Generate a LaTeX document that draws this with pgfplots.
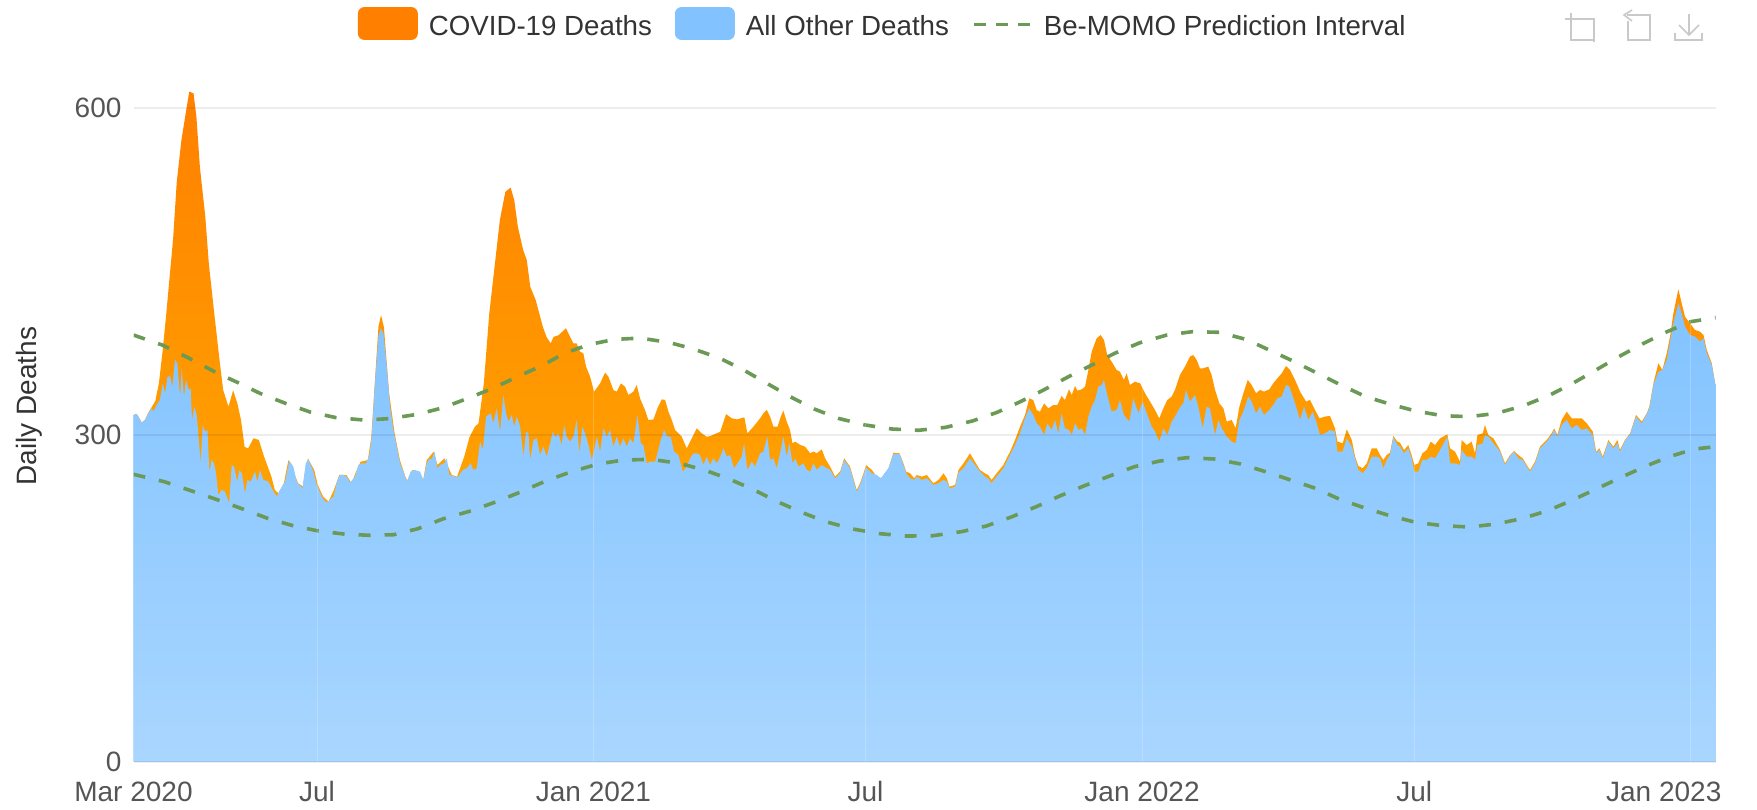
\documentclass[border=0pt]{standalone}
\usepackage{fontspec}
\setmainfont{Liberation Sans}
\usepackage{pgfplots}
\usepackage{pgfplotstable}
\pgfplotsset{compat=1.18}
\definecolor{covidtop}{HTML}{FF8000}
\definecolor{covidbot}{HTML}{FFB800}
\definecolor{othertop}{HTML}{82C3FF}
\definecolor{otherbot}{HTML}{A9D6FF}
\definecolor{pi}{HTML}{6A9A55}
\definecolor{ticktxt}{HTML}{555555}
\definecolor{labtxt}{HTML}{333333}
\definecolor{icon}{HTML}{C9C9C9}
\pgfplotstableread{
day total
0 318.4
2.1 319.3
3.9 315.3
5.4 311.4
7.6 313.8
9.8 320.5
12 325.5
14.4 331
16.8 347.4
19.1 375
21.5 408.5
23.9 445
26.2 480
28.6 532
31.7 570.6
34.5 595
36.9 615
39.7 613.4
41.6 592
43.9 546
47.5 500
49.8 457.5
53.4 411.6
56.9 368.8
59.3 341.3
62.8 326
65.9 341
68.7 329
71.1 313.7
73.5 289
75.8 287.7
79.4 297
82.9 295.4
86.4 280
91.2 261.8
93.5 249.5
95.9 246.5
99.4 255.6
102.5 277
105.3 268
108.9 255.6
112.4 252.6
115.3 278.6
119.5 268
121.9 254.2
125.4 243.5
129 238.9
132.5 249.5
136.1 263.3
140.8 263.3
144.3 255.6
146.7 264.8
150.2 275.5
155 277
157.3 298.4
159.7 350.4
162 399.4
163.7 410
165.6 399
169.1 338
172.7 301.5
176.2 277
179.8 261.8
181.4 257
184.5 268
188 266.3
191.6 258.7
193.9 277
198.6 284.7
201 272.5
205.7 278.6
210.5 263.3
214 261.8
218.7 280
222.3 298.4
225.8 307.6
228.2 310.7
231.7 347.4
235.3 411.6
238.8 454.4
242.3 497.2
245.9 523
249.4 527
251.8 515.6
254.2 491
257.7 469.7
260.1 460.5
262.4 436
266 423.8
270.7 399.4
273.1 390.2
275.9 384
277.8 390
281.3 391.7
286 398
288.7 390.2
290.9 384
293.1 384
295.3 376.4
297.5 374.9
299.3 362.7
302 353.5
304.6 339.7
308.6 347.4
311.9 357.2
314.1 353.5
317.4 341.3
319.6 339.7
322.3 347.4
325.1 344.3
327.3 336.7
330.6 339.7
332.8 345.8
335 333.6
338.3 322.9
340.5 313.7
343.9 314.3
346.5 324.4
349.4 332.7
351.6 332.1
353.8 321.4
356 313.7
358.2 304.6
362.6 298.4
365.9 287.7
369.2 296.9
372.5 306.1
375.8 301.5
379.1 298.4
381.3 299
384.6 300.9
388 303
391.9 319.2
395.7 315.3
399 314.3
404 316.2
406 301.5
410 307.6
414.4 315.3
416.6 319.9
418.8 323
421 316.9
423.2 307.7
425.9 307.7
428.1 316.9
429.8 322.4
432 312.3
434.2 304.6
435.8 292.4
437.6 293.9
440.9 290.9
444.2 289.3
447.5 283.2
449.7 284.8
451.9 283.2
455.2 286.9
457.4 278.6
460.7 271
464 261.8
467.3 266.4
470 278.6
473.9 271
476.1 260.3
478.3 249.6
480.5 255.7
482.8 264.9
484.5 272.5
488.3 267.9
491.6 261.8
494.9 260.3
499.3 269.5
502.6 283.8
506.6 283.2
509.2 274
511 266.4
513.6 264.9
516.3 260.3
518 263.3
521.3 261.8
524.7 263.3
529 255.7
532.4 258.8
535.7 264.9
537.9 260.3
539.6 252.6
543.4 254.2
545.6 267.9
548.9 274
553.2 283.2
556.5 275.5
559.8 267.9
563.1 264.8
565.3 263.3
567.5 258.7
570.8 264.8
575.3 272.5
579.7 284.7
583 295.4
586.3 307.6
589.6 318.3
592.4 333.6
595.1 332.1
597.3 322.9
599.5 321.4
602.2 329
605 324.5
608.3 327.5
611 327.5
613.8 335.8
616 332.1
618.7 341.9
620.5 336.7
622.7 345
624.2 340.7
627.1 341.9
629.3 344.3
631.5 359.6
633.7 376.4
637 388.7
639.6 391.7
641.8 387.2
644 373.4
646.9 367.3
650.2 359.6
652.4 358.1
655 350.5
656.8 356.6
659 345.9
662.3 348.9
665.7 347.4
669 338.2
672.3 330.6
675.6 322.9
678.4 315.3
681.1 324.5
683.7 332.1
686.6 335.2
688.8 341.3
692.1 355.1
695.4 362.7
698.7 371.9
700.9 373.4
703.1 368.9
705.3 361.2
707.5 361.2
710.8 362.7
713 355.1
715.3 341.3
718.1 329.1
720.8 324.5
723 312.3
726.3 313.8
728.9 306.2
731.4 326
734 338.3
736.9 350.5
739.5 345.9
742.4 338.3
745 341.3
747.7 339.8
751.2 341.9
753.8 347.4
756.5 352
759.4 356.6
762.2 363.3
764.9 359.7
768.2 350.5
771.5 339.8
775.5 330.6
778.1 332.2
781.4 323
784.3 315.3
788 316.9
791.3 317.5
794.6 306.2
796.2 294
799.7 292.4
802.4 305.2
805.7 295.5
807.9 280.2
810.1 271.6
812.9 269.5
815.6 274
818.9 287.8
822.2 287.8
824.4 281.7
826.6 277.1
828.8 281.7
831 283.8
833.2 299.1
835.9 293.9
837.6 293
840.3 286.2
843.1 290.8
845.3 281.6
847.1 272.5
849.7 274
852.4 283.2
855.3 286.2
857.9 293.9
860.8 290.8
864.1 296.9
868.9 300.6
870.7 287.8
874 284.7
877.3 275.5
878.4 295.4
881.7 290.8
885 293.9
887.2 283.2
888.8 300
892.3 301.5
893.8 309.2
896 300
899.4 296.9
903.8 286.2
907.1 274
910.4 281.6
913 285.3
915.9 281.6
918.8 278.6
921.4 272.5
923.6 267.9
926.9 275.6
930.2 289.3
934.6 295.4
937.9 301.6
939.5 306.1
941.7 300
944.5 313.8
947.9 321.4
951.2 315.3
954.5 315.3
957.8 315.3
961.1 310.7
965.1 303.1
967.3 284.7
969.5 287.8
971.7 280.2
975.4 295.4
978.7 289.3
981.4 295.4
983.1 286.3
986.4 295.4
989.8 301.6
993.7 318.4
997.5 312.3
1000.8 319.9
1002.5 326
1005.2 347.4
1008.5 365.8
1011.1 359.7
1014 375
1016.2 390.2
1018.4 411.6
1021.7 433.7
1023.9 420.8
1026.1 408.6
1029.4 402.5
1032.7 396.4
1036 394.8
1038.3 391.8
1040.5 378
1043.8 365.8
1046.4 344.4
}\totaltable
\pgfplotstableread{
day other
0 318.4
2.1 319.3
3.9 315.3
5.4 311.4
7.6 313.8
9.8 319.9
12 324.5
13.1 321.5
15.3 327.6
17.5 332.2
19.3 347.4
20.9 338.3
22.4 353
24.2 354.2
25.7 344.4
27.5 369.5
29 365.8
30.8 335.2
31.9 361.2
33.4 335.2
34.7 350.5
36.5 341.3
37.8 342.9
38.7 313.8
40.3 326
41.8 318.4
42.9 301.6
44.4 274
45.8 309.2
47.3 303.1
48.9 304.6
50.2 266.4
51.7 277.1
53.3 274
54.6 264.9
56.1 245
58.3 249.6
60.5 248.1
63.2 237.4
65 272.5
66.5 271
68.7 257.2
70 267.9
71.6 264.9
73.8 246.5
75.3 258.8
77.5 257.2
80.4 266.4
81.9 257.2
83.7 267.9
85.9 258.8
89.2 257.2
92 249.6
94.7 243.5
96.9 249.6
100.2 257.2
103.1 276.5
105.7 271
108 257.2
111.7 251.1
113.9 274
115.7 277.7
119 266.4
121.2 254.2
124.5 243.5
126.7 238.9
128.9 238.9
132.2 243.5
134.9 258.8
136.6 263.4
138.8 263.4
141 261.8
143.2 256.3
146.5 261.8
148.7 272.5
150.9 274
153.8 274
156 281.7
157.5 298.5
159.8 350.5
162 390.3
163.5 397.9
165.3 393.3
167.5 362.7
169.7 326
171.9 304.6
174.1 289.4
176.3 274
178.5 266.4
180.7 257.2
183.3 266.4
186.2 267.9
189.5 266.4
191.7 258.8
193.9 274
195.7 278.6
197.2 277.7
199 284.8
201 269.5
202.7 272.5
205.4 274
207.2 278.6
208.9 263.4
212.7 261.8
214.9 261.8
217.7 267.9
220.4 269.5
223 274
224.8 267.9
227 269.5
229.2 293.9
231 286.3
233.2 316.9
234.7 318.4
236.3 319.9
238 310.8
240.2 324.5
242.4 303.1
244.6 336.7
246.4 319.9
248 312.3
250.2 318.4
251.7 307.7
253.5 316.9
255.7 307.7
257.9 280.2
259.6 303.1
261.2 301.6
262.3 277.1
264.5 295.5
266.7 297
268.9 281.7
271.1 289.3
273.3 280.2
275.5 292.3
277.3 303
278.8 298.4
281 301.5
283.2 290.8
284.8 309.1
286.5 298.4
288.7 293.9
290.9 298.4
293.1 313.7
294.9 283.2
296.9 307.6
298.7 301.5
300.9 290.8
303.1 277
305.3 290.8
306.4 298.4
308.6 284.7
310.8 306.1
313 298.4
315.2 304.6
317.4 289.3
319.6 298.4
321.8 289.3
324 296.9
326.2 289.3
328.4 296.9
330.6 292.3
333.3 318.3
335.5 292.3
337.2 290.8
339.4 274
341.6 275.5
345 275.5
346.5 283.2
348.7 295.4
350.9 304.6
353.1 298.4
355.3 298.4
357.5 284.7
360.4 281.6
363.3 266.3
365.9 270.9
368.1 278.6
370.3 283.2
372.5 283.2
374.7 281.6
376.9 272.5
379.1 280.1
381.3 272.5
383.5 278.6
385.8 274
388 280.1
390.2 287.7
392.4 280.1
394.6 281.6
397.2 269.4
400.1 275.5
402.3 280.1
403.8 292.3
406 267.9
408.9 275.5
411.1 270.9
414.4 283.2
416.6 284.8
419.2 298.5
421 277.1
423.2 278.6
425.4 269.5
427.6 283.2
429.8 298.5
432 280.2
433.8 292.4
435.8 274
437.6 278.6
439.8 271
443.1 274
445.3 268
447.5 266.4
449.7 274
451.9 268
455.2 272.5
457.4 270.4
460.7 268
464 260.3
467.3 264.9
470 277.1
473.9 269.5
476.1 258.8
478.3 248.1
480.5 254.2
482.8 263.3
484.5 270.4
488.3 264.9
491.6 263.3
494.2 260.3
499.3 269.5
502.6 282.6
506.6 282.6
509.2 272.5
511 264.9
513.6 260.3
516.3 258.8
518 261.8
521.3 258.8
524.7 260.3
529 254.2
532.4 255.7
535.7 258.8
537.9 257.2
539.6 251.1
543.4 252.6
545.6 265.5
548.9 269.5
553.2 278.6
556.5 272.5
559.8 266.4
563.1 261.8
565.3 260.3
567.5 255.7
570.8 261.8
575.3 269.4
579.7 281.7
583 290.8
586.3 301.5
589.6 315.3
592.4 324.5
595.1 318.3
597.3 310.7
599.5 307.6
602.2 300
604.4 310.7
607.2 304.6
609.4 313.8
611.6 301.5
613.8 319.9
616 306.1
618.7 304.6
620.5 300
622.7 310.7
624.9 304.6
627.1 306.1
629.3 300
631.5 316.8
633.7 326
635.9 332.1
638.1 344.3
640.3 345.9
641.8 350.5
644 336.7
646.9 321.4
650.2 322.9
652.4 332.1
655 318.3
658.6 312.2
661.2 333.6
664.6 319.9
667.4 330.6
670.1 319.9
673.4 307.6
675.6 303.1
678.4 293.9
681.1 306.1
683.7 300
686.6 312.2
688.8 316.8
692.1 325.5
694.3 329.1
696.1 341.3
698.7 330.6
702 336.7
704.2 326
707.1 306.2
709.7 326
711.9 324.5
715.3 300
717.5 313.8
719.7 306.2
723 298.5
726.3 293.9
728.9 292.4
731.4 313.8
734 321.4
737.3 335.2
739.5 330.6
742.4 319.9
745 326
747.7 318.4
751.2 323
753.8 327.6
756.5 333.7
759.4 335.2
762.2 345.9
764.4 344.4
768.2 329.1
771.5 313.8
774.1 326
777 313.8
779.9 321.4
782.5 310.8
784.7 300
788 301.6
791.3 304.6
794.6 303.1
796.2 284.8
799.7 284.8
802.4 297
805.7 289.3
807.9 278.6
810.1 267.9
812.9 264.9
815.6 269.5
818.9 280.2
822.2 280.2
824.4 278.6
826.6 269.5
828.8 277.1
831 281.7
833.2 297.9
835.9 290.8
837.6 289.3
840.3 283.2
843.1 287.8
845.3 278.6
847.1 266.4
849.7 266.4
852.4 277.1
855.3 277.1
857.9 280.1
860.8 278.6
864.1 286.2
868.9 298.5
870.7 274
874 274
877.3 272.5
878.4 286.2
881.7 280.1
885 280.1
887.2 277.1
888.8 290.8
892.3 292.3
893.8 300
896 298.5
899.4 292.3
903.8 284.7
907.1 272.5
910.4 280.7
913 284.7
915.9 278.6
918.8 277.1
921.4 271
923.6 266.4
926.9 274
930.2 287.8
934.6 293.9
937.9 300
939.5 304.6
941.7 298.5
944.5 309.2
947.9 313.8
951.2 306.1
954.5 309.2
957.8 304.6
961.1 306.1
965.1 300
967.3 283.2
969.5 286.3
971.7 278.6
975.4 293.9
978.7 287.8
981.4 292.4
983.1 284.7
986.4 294.8
989.8 300.9
993.7 316.9
997.5 310.7
1000.8 319.3
1002.5 324.5
1005.2 345.9
1008.5 358.1
1011.1 359.7
1014 368.8
1016.2 385.6
1018.4 402.5
1021.7 420.8
1023.9 411.6
1026.1 399.4
1029.4 391.8
1032.7 390.2
1036 385.6
1038.3 388.7
1040.5 375
1043.8 364.2
1046.4 344.4
}\othertable
\pgfplotstableread{
day upper
0 391.7
19.1 382.5
36.9 370.3
55.7 356.5
67.6 349
84 338
100.6 329
117 321
133.7 316
152.6 313.7
169 315
188 319
204.6 325
221 333.6
237.6 342.8
254 353.5
270.7 364
285 375
301.4 383
318 387.7
335 388.9
353.9 385
370.4 378.9
388 370.3
403.5 359.6
418.9 347.4
434.2 335.2
450.7 323.6
466 315.3
483.8 309.2
501.5 305.5
519.2 304.3
537 307
554.7 312.8
571.2 320.8
586.6 330.6
601.9 341.3
618.4 353.5
633.8 364.2
649 375
665.7 384.7
683.4 391.7
700.4 394.8
718.1 394.2
735.8 387.7
751.1 378
767.7 367.3
783 356.6
798.4 345.9
814.9 335.2
831.5 328.1
848 322
865.7 317.7
883.4 316.8
901.1 319.8
918.8 326.6
935.4 335.8
950.7 346.5
966.1 358.7
981.4 371.2
997.9 383.5
1013.3 394.2
1029.9 404
1046.4 407.6
}\uppertable
\pgfplotstableread{
day lower
0 263.9
20.3 257.2
38 248.9
54.6 241
71.1 232.7
88.8 223.5
105 217
122 212
140 209
156 208
172 208.5
188 214
204.6 223
223.4 230.5
240 238.8
256.5 248
273 258
289.6 266.3
307.3 273.4
323.8 277
342.1 277.7
361 274
377.5 267.9
394 259.6
410.6 249.5
425.9 238.8
442.5 228.7
457.8 220.5
475.5 213.8
493.3 209.5
511 207.3
528.7 207.6
547.6 211.3
564 216.5
580.6 224.8
597.2 234.3
612.5 244
629 253.5
645.6 262.4
662.1 271
678.7 276.1
696.8 279.2
714.5 278
732.3 273.4
748.8 266.3
765.3 258.7
781.9 251
797.2 241.3
813.7 233.3
831.5 225.7
848 219.9
865.7 216.8
883.4 215.6
901.1 218.3
918.8 223.5
935.4 230.6
950.7 239.7
967.3 250.4
983.8 261.1
999.2 270.9
1015.7 280.1
1032.2 287.1
1046.4 289.3
}\lowertable
\begin{document}
\begin{tikzpicture}
\useasboundingbox (0,0) rectangle (878.5pt,404.5pt);
\begin{axis}[
  at={(66.75pt,23.5pt)}, anchor=south west,
  scale only axis, width=791.1pt, height=348.8pt,
  xmin=0, xmax=1046.4, ymin=0, ymax=640,
  xtick={0,121.4,304.2,484.1,667,847,1029.9},
  xticklabels={Mar 2020,Jul,Jan 2021,Jul,Jan 2022,Jul,\hspace*{-27pt}Jan 2023},
  ytick={0,300,600}, yticklabels={0,300,600},
  /pgf/number format/assume math mode=true,
  tick label style={font=\fontsize{14}{16}\selectfont, text=ticktxt},
  major tick length=0pt,
  axis line style={draw=none},
  axis on top,
  xmajorgrids, ymajorgrids,
  x grid style={white,opacity=.2,line width=.5pt},
  y grid style={black,opacity=.07,line width=1pt},
  xticklabel style={yshift=-6pt,text height=10pt,text depth=3pt},
  yticklabel style={xshift=-2.5pt},
  ylabel={Daily Deaths},
  every axis y label/.style={at={(axis description cs:0,0.5)},rotate=90,anchor=center,xshift=3.5pt,yshift=52pt,font=\fontsize{14}{16}\selectfont,text=labtxt},
  legend style={at={(0.4742,1.0571)},anchor=center,draw=none,fill=none,
    font=\fontsize{13.85}{16}\selectfont, text=labtxt,
    legend columns=3, /tikz/every even column/.append style={column sep=9.5pt}},
  legend cell align=left,
]
\addplot[draw=none,top color=covidtop,bottom color=covidbot,forget plot] table[x=day,y=total] {\totaltable} \closedcycle;
\addplot[draw=none,top color=othertop,bottom color=otherbot,forget plot] table[x=day,y=other] {\othertable} \closedcycle;
\addplot[pi,line width=1.8pt,dash pattern=on 6pt off 7pt,forget plot] table[x=day,y=upper] {\uppertable};
\addplot[pi,line width=1.8pt,dash pattern=on 6pt off 7pt,forget plot] table[x=day,y=lower] {\lowertable};
\addlegendimage{legend image code/.code={\fill[covidtop,rounded corners=3pt] (0pt,-6.5pt) rectangle (29.5pt,9.5pt);\path (33pt,0pt);}}
\addlegendentry{COVID-19 Deaths}
\addlegendimage{legend image code/.code={\fill[othertop,rounded corners=3pt] (0pt,-6.5pt) rectangle (29.5pt,9.5pt);\path (33pt,0pt);}}
\addlegendentry{All Other Deaths}
\addlegendimage{legend image code/.code={\draw[pi,line width=1.8pt,dash pattern=on 6pt off 5pt] (0pt,1pt) -- (28pt,1pt);\path (32.8pt,0pt);}}
\addlegendentry{Be-MOMO Prediction Interval}
\end{axis}
\begin{scope}[x=0.5pt,y=-0.5pt,shift={(0pt,404.5pt)},icon,line width=.8pt]
\draw (1565,19) -- (1594,19) -- (1594,42);
\draw (1571,13) -- (1571,40) -- (1594,40);
\draw (1627,15) -- (1650,15) -- (1650,40) -- (1628,40) -- (1628,21);
\draw (1632,10) -- (1624,15) -- (1632,21);
\draw (1689,14) -- (1689,35);
\draw (1679,25) -- (1689,35) -- (1699,25);
\draw (1675,33) -- (1675,40) -- (1702,40) -- (1702,33);
\end{scope}
\end{tikzpicture}
\end{document}
